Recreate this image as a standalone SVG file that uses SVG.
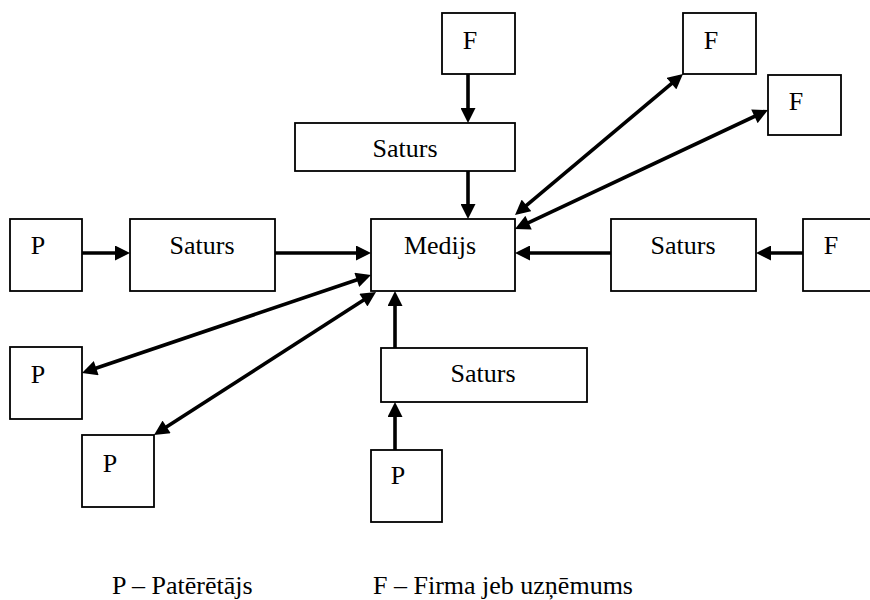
<svg xmlns="http://www.w3.org/2000/svg" width="870" height="600" viewBox="0 0 870 600" font-family="'Liberation Serif', 'Times New Roman', Tinos, 'Noto Serif', 'DejaVu Serif', serif">
  <style>
    .box { fill: #ffffff; stroke: #000000; stroke-width: 1.8; }
    text { font-family: "Liberation Serif", "Times New Roman", Tinos, "Noto Serif", "DejaVu Serif", serif; font-size: 26px; fill: #000000; }
    .lbl { text-anchor: middle; }
    .arrow { stroke: #000000; stroke-width: 3.6; fill: none; marker-end: url(#head); }
    .both { marker-start: url(#head); }
  </style>
  <defs>
    <marker id="head" viewBox="0 0 10 10" refX="7" refY="5" markerWidth="16" markerHeight="15" markerUnits="userSpaceOnUse" orient="auto-start-reverse">
      <path d="M0,0 L10,5 L0,10 z" fill="#000000"/>
    </marker>
  </defs>

  <rect width="870" height="600" fill="#ffffff"/>

  <!-- central media node -->
  <g id="medijs">
    <rect class="box" x="371" y="219" width="144" height="72"/>
    <text class="lbl" x="440" y="254">Medijs</text>
  </g>

  <!-- top column: firm -> content -> media -->
  <g id="f-top">
    <rect class="box" x="442" y="13" width="73" height="61"/>
    <text class="lbl" x="470" y="49">F</text>
  </g>
  <g id="saturs-top">
    <rect class="box" x="295" y="123" width="220" height="48"/>
    <text class="lbl" x="405" y="157">Saturs</text>
  </g>

  <!-- firms linked both ways -->
  <g id="f-upper-right">
    <rect class="box" x="683" y="13" width="73" height="61"/>
    <text class="lbl" x="711" y="49">F</text>
  </g>
  <g id="f-right-mid">
    <rect class="box" x="768" y="75" width="73" height="60"/>
    <text class="lbl" x="796" y="110">F</text>
  </g>

  <!-- right row: firm -> content -> media -->
  <g id="saturs-right">
    <rect class="box" x="611" y="219" width="145" height="72"/>
    <text class="lbl" x="683" y="254">Saturs</text>
  </g>
  <g id="f-right">
    <rect class="box" x="803" y="219" width="75" height="72"/>
    <text class="lbl" x="831" y="254">F</text>
  </g>

  <!-- left row: consumer -> content -> media -->
  <g id="p-left">
    <rect class="box" x="10" y="219" width="72" height="72"/>
    <text class="lbl" x="38" y="254">P</text>
  </g>
  <g id="saturs-left">
    <rect class="box" x="130" y="219" width="145" height="72"/>
    <text class="lbl" x="202" y="254">Saturs</text>
  </g>

  <!-- consumers linked both ways -->
  <g id="p-left-mid">
    <rect class="box" x="10" y="347" width="72" height="72"/>
    <text class="lbl" x="38" y="383">P</text>
  </g>
  <g id="p-left-low">
    <rect class="box" x="82" y="435" width="72" height="72"/>
    <text class="lbl" x="110" y="472">P</text>
  </g>

  <!-- bottom column: consumer -> content -> media -->
  <g id="saturs-bottom">
    <rect class="box" x="381" y="348" width="206" height="54"/>
    <text class="lbl" x="483" y="382">Saturs</text>
  </g>
  <g id="p-bottom">
    <rect class="box" x="371" y="450" width="71" height="72"/>
    <text class="lbl" x="398" y="484">P</text>
  </g>

  <g id="connectors">
    <line class="arrow" x1="468" y1="74" x2="468" y2="118.5"/>
    <line class="arrow" x1="468" y1="171" x2="468" y2="214.5"/>
    <line class="arrow" x1="82" y1="253" x2="125.5" y2="253"/>
    <line class="arrow" x1="275" y1="253" x2="366.5" y2="253"/>
    <line class="arrow" x1="803" y1="253" x2="760.5" y2="253"/>
    <line class="arrow" x1="611" y1="253" x2="519.5" y2="253"/>
    <line class="arrow" x1="395" y1="450" x2="395" y2="406.5"/>
    <line class="arrow" x1="395" y1="348" x2="395" y2="295.5"/>
    <line class="arrow both" x1="518.45" y1="212.11" x2="679.55" y2="76.89"/>
    <line class="arrow both" x1="519.07" y1="227.08" x2="763.93" y2="111.92"/>
    <line class="arrow both" x1="366.74" y1="276.44" x2="86.26" y2="371.56"/>
    <line class="arrow both" x1="372.22" y1="294.44" x2="157.78" y2="432.56"/>
  </g>

  <g id="legend">
    <text x="112" y="594">P – Patērētājs</text>
    <text x="373" y="594">F – Firma jeb uzņēmums</text>
  </g>
</svg>
